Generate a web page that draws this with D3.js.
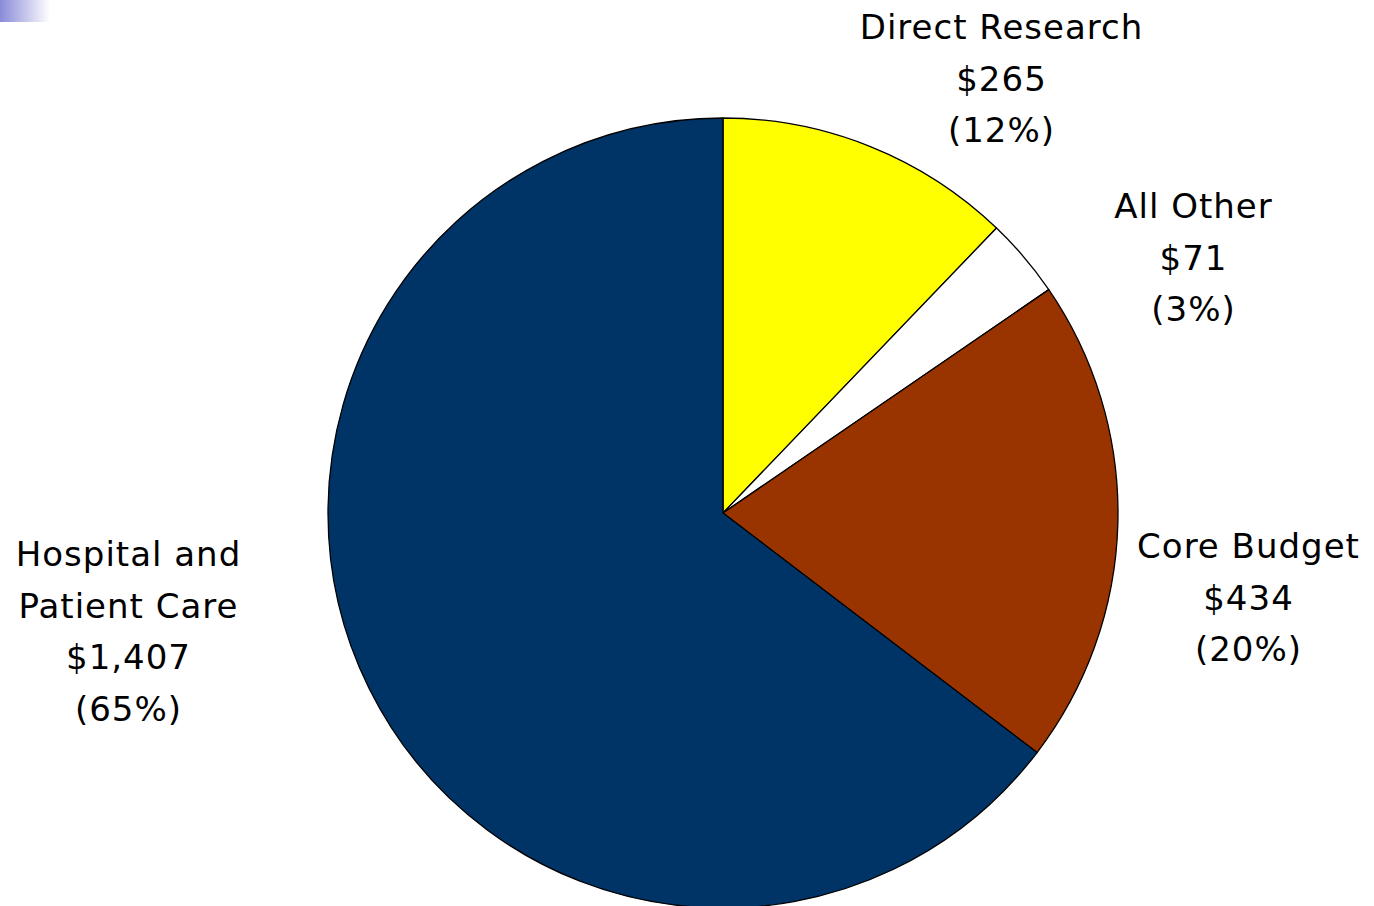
<!DOCTYPE html>
<html>
<head>
<meta charset="utf-8">
<script src="https://cdn.jsdelivr.net/npm/d3@7"></script>
<style>
  html, body { margin: 0; padding: 0; background: #ffffff; }
  svg { display: block; }
</style>
</head>
<body>
<svg id="chart" width="1374" height="906"></svg>
<script>
const categories = ["Direct Research", "All Other", "Core Budget", "Hospital and Patient Care"];
const values = [265, 71, 434, 1407];
const valueLabels = ["$265", "$71", "$434", "$1,407"];
const percentLabels = ["(12%)", "(3%)", "(20%)", "(65%)"];
const colors = ["#FFFF00", "#FFFFFF", "#993300", "#003366"];

// label layout (block centres in px)
const labelLayout = [
  { x: 1001, y0: 27 },
  { x: 1193, y0: 206 },
  { x: 1248, y0: 546 },
  { x: 128, y0: 554 }
];

const svg = d3.select("#chart");

// top-left gradient decoration
const defs = svg.append("defs");
const grad = defs.append("linearGradient").attr("id", "corner").attr("x1", "0").attr("x2", "1").attr("y1", "0").attr("y2", "0");
grad.append("stop").attr("offset", "0").attr("stop-color", "#8a8ad8");
grad.append("stop").attr("offset", "1").attr("stop-color", "#ffffff");
svg.append("rect").attr("x", 0).attr("y", 0).attr("width", 50).attr("height", 22).attr("fill", "url(#corner)");

const cx = 723, cy = 513, r = 395;
const g = svg.append("g").attr("transform", `translate(${cx},${cy})`);

const pie = d3.pie().value(d => d).sort(null);
const arc = d3.arc().innerRadius(0).outerRadius(r);
const arcs = pie(values);

g.selectAll("path")
  .data(arcs)
  .join("path")
  .attr("d", arc)
  .attr("fill", (d, i) => colors[i])
  .attr("stroke", "#000")
  .attr("stroke-width", 1.3)
  .attr("stroke-linejoin", "round");

const lineH = 51.5;
const ls = 1;
const labelLines = categories.map((c, i) => {
  const nameLines = c === "Hospital and Patient Care" ? ["Hospital and", "Patient Care"] : [c];
  return nameLines.concat([valueLabels[i], percentLabels[i]]);
});

labelLines.forEach((lines, i) => {
  const L = labelLayout[i];
  const t = svg.append("text")
    .attr("text-anchor", "middle")
    .attr("font-family", "'DejaVu Sans', Verdana, sans-serif")
    .attr("font-size", 34)
    .attr("letter-spacing", ls)
    .attr("fill", "#000");
  lines.forEach((ln, k) => {
    t.append("tspan")
      .attr("x", L.x + ls / 2)
      .attr("y", L.y0 + k * lineH)
      .attr("dominant-baseline", "central")
      .text(ln);
  });
});
</script>
</body>
</html>
